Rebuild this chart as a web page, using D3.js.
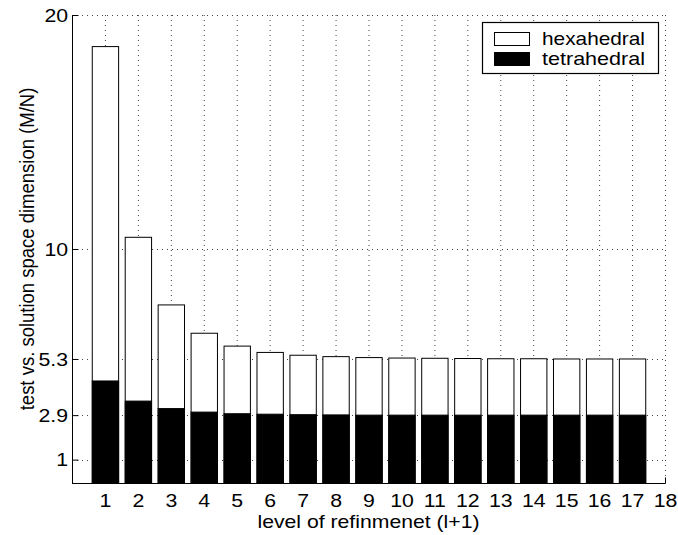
<!DOCTYPE html>
<html><head><meta charset="utf-8">
<script src="https://cdn.jsdelivr.net/npm/d3@7"></script>
<style>
html,body{margin:0;padding:0;background:#fff;}
svg{display:block;font-family:"Liberation Sans",Arial,Helvetica,sans-serif;}
</style></head>
<body><svg id="chart" width="678" height="535"></svg>
<script>
const levels = [1,2,3,4,5,6,7,8,9,10,11,12,13,14,15,16,17];
const hexahedral = [18.65,10.5,7.61,6.4,5.85,5.58,5.46,5.40,5.36,5.34,5.33,5.32,5.31,5.31,5.30,5.30,5.30];
const tetrahedral = [4.36,3.50,3.18,3.03,2.96,2.94,2.92,2.91,2.90,2.90,2.90,2.90,2.90,2.90,2.90,2.90,2.90];
const xTicks = [1,2,3,4,5,6,7,8,9,10,11,12,13,14,15,16,17,18];
const yTicks = [1,2.9,5.3,10,20];
const yTickLabels = ["1","2.9","5.3","10","20"];
const seriesNames = ["hexahedral","tetrahedral"];

const svg = d3.select("#chart");
const L = 72, R = 665, T = 15, B = 483;
const FS = 19, SX = 1.12;
const x = d3.scaleLinear().domain([0,18]).range([L,R]);
const y = d3.scaleLinear().domain([0,20]).range([B,T]);
const bw = (x(1)-x(0))*0.8;

// grid
const g = svg.append("g");
g.selectAll(".vg").data(xTicks).enter().append("line")
  .attr("x1",d=>x(d)+0.5).attr("x2",d=>x(d)+0.5).attr("y1",T).attr("y2",B)
  .attr("stroke","#444").attr("stroke-width",1).attr("stroke-dasharray","1,4");
g.selectAll(".hg").data(yTicks).enter().append("line")
  .attr("x1",L).attr("x2",R).attr("y1",d=>Math.round(y(d))+0.5).attr("y2",d=>Math.round(y(d))+0.5)
  .attr("stroke","#444").attr("stroke-width",1).attr("stroke-dasharray","1,4");

// axes
const yAxis = d3.axisLeft(y).tickValues(yTicks).tickFormat((d,i)=>yTickLabels[i]).tickSize(-6).tickPadding(4);
const xAxis = d3.axisBottom(x).tickValues(xTicks).tickFormat(d3.format("d")).tickSize(-6).tickPadding(10);
const ya = svg.append("g").attr("transform",`translate(${L+0.5},0)`).call(yAxis);
const xa = svg.append("g").attr("transform",`translate(0,${B+0.5})`).call(xAxis);
[ya,xa].forEach(a=>{
  a.select(".domain").remove();
  a.selectAll("line").attr("stroke","#000");
  a.selectAll("text").attr("font-size",FS).attr("fill","#000")
    .attr("font-family","Liberation Sans, Arial, sans-serif")
    .attr("transform",`scale(${SX},1)`);
});

// bars
const bars = svg.append("g");
bars.selectAll(".hex").data(levels).enter().append("rect")
  .attr("x",(d,i)=>x(d)-bw/2+0.5).attr("width",bw)
  .attr("y",(d,i)=>y(hexahedral[i])).attr("height",(d,i)=>y(0)-y(hexahedral[i]))
  .attr("fill","#fff").attr("stroke","#000").attr("stroke-width",1);
bars.selectAll(".tet").data(levels).enter().append("rect")
  .attr("x",(d,i)=>x(d)-bw/2+0.5).attr("width",bw)
  .attr("y",(d,i)=>y(tetrahedral[i])).attr("height",(d,i)=>y(0)-y(tetrahedral[i]))
  .attr("fill","#000").attr("stroke","#000").attr("stroke-width",1);

// axis lines (left & bottom)
svg.append("line").attr("x1",L+0.5).attr("x2",L+0.5).attr("y1",T).attr("y2",B+0.5).attr("stroke","#000");
svg.append("line").attr("x1",L).attr("x2",R+0.5).attr("y1",B+0.5).attr("y2",B+0.5).attr("stroke","#000");

// axis labels
svg.append("text").attr("x",(L+R)/2).attr("y",528).attr("text-anchor","middle")
  .attr("font-size",FS).attr("textLength",222).attr("lengthAdjust","spacingAndGlyphs")
  .text("level of refinmenet (l+1)");
svg.append("text").attr("transform",`translate(34,${(T+B)/2}) rotate(-90) scale(1,${SX})`).attr("text-anchor","middle")
  .attr("font-size",18.5).text("test vs. solution space dimension (M/N)");

// legend
const lg = svg.append("g");
lg.append("rect").attr("x",482.5).attr("y",22.5).attr("width",176).attr("height",51)
  .attr("fill","#fff").attr("stroke","#000").attr("stroke-width",1.2);
const fills = ["#fff","#000"];
seriesNames.forEach((n,i)=>{
  lg.append("rect").attr("x",494.5).attr("y",32.5+i*20).attr("width",35).attr("height",13)
    .attr("fill",fills[i]).attr("stroke","#000");
  lg.append("text").attr("x",542).attr("y",45+i*20).attr("font-size",FS)
    .attr("textLength",103).attr("lengthAdjust","spacingAndGlyphs").text(n);
});
</script></body></html>
